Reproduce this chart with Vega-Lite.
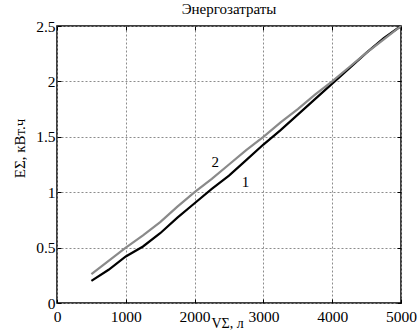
{
  "$schema": "https://vega.github.io/schema/vega-lite/v6.json",
  "width": 344,
  "height": 277,
  "autosize": {"type": "none"},
  "padding": {"left": 57, "top": 26, "right": 18, "bottom": 31},
  "background": "white",
  "config": {
    "font": "Liberation Serif",
    "view": {"stroke": "black", "strokeWidth": 1.5},
    "axis": {"labelFont": "Liberation Serif", "titleFont": "Liberation Serif", "labelColor": "black", "titleColor": "black"}
  },
  "title": {"text": "Энергозатраты", "fontSize": 15, "fontWeight": "normal", "font": "Liberation Serif", "offset": 2, "color": "black"},
  "datasets": {
    "lines": [
      {"V": 500, "E": 0.2, "curve": "1"}, {"V": 750, "E": 0.3, "curve": "1"}, {"V": 1000, "E": 0.42, "curve": "1"}, {"V": 1250, "E": 0.51, "curve": "1"}, {"V": 1500, "E": 0.63, "curve": "1"}, {"V": 1750, "E": 0.77, "curve": "1"}, {"V": 2000, "E": 0.9, "curve": "1"}, {"V": 2250, "E": 1.03, "curve": "1"}, {"V": 2500, "E": 1.15, "curve": "1"}, {"V": 2750, "E": 1.29, "curve": "1"}, {"V": 3000, "E": 1.43, "curve": "1"}, {"V": 3250, "E": 1.56, "curve": "1"}, {"V": 3500, "E": 1.7, "curve": "1"}, {"V": 3750, "E": 1.84, "curve": "1"}, {"V": 4000, "E": 1.98, "curve": "1"}, {"V": 4250, "E": 2.12, "curve": "1"}, {"V": 4500, "E": 2.26, "curve": "1"}, {"V": 4750, "E": 2.39, "curve": "1"}, {"V": 5000, "E": 2.5, "curve": "1"},
      {"V": 500, "E": 0.26, "curve": "2"}, {"V": 750, "E": 0.38, "curve": "2"}, {"V": 1000, "E": 0.5, "curve": "2"}, {"V": 1250, "E": 0.61, "curve": "2"}, {"V": 1500, "E": 0.73, "curve": "2"}, {"V": 1750, "E": 0.87, "curve": "2"}, {"V": 2000, "E": 1.0, "curve": "2"}, {"V": 2250, "E": 1.12, "curve": "2"}, {"V": 2500, "E": 1.25, "curve": "2"}, {"V": 2750, "E": 1.38, "curve": "2"}, {"V": 3000, "E": 1.5, "curve": "2"}, {"V": 3250, "E": 1.63, "curve": "2"}, {"V": 3500, "E": 1.75, "curve": "2"}, {"V": 3750, "E": 1.88, "curve": "2"}, {"V": 4000, "E": 2.0, "curve": "2"}, {"V": 4250, "E": 2.13, "curve": "2"}, {"V": 4500, "E": 2.26, "curve": "2"}, {"V": 4750, "E": 2.38, "curve": "2"}, {"V": 5000, "E": 2.5, "curve": "2"}
    ],
    "labels": [
      {"V": 2300, "E": 1.27, "label": "2"},
      {"V": 2740, "E": 1.09, "label": "1"}
    ]
  },
  "layer": [
    {
      "data": {"name": "lines"},
      "mark": {"type": "line", "strokeWidth": 2.2},
      "encoding": {
        "x": {"field": "V", "type": "quantitative", "scale": {"domain": [0, 5000], "nice": false},
              "axis": {"orient": "bottom", "values": [0, 1000, 2000, 3000, 4000, 5000], "format": "d", "labelFont": "Liberation Serif", "labelFontSize": 15.5, "tickSize": -4, "tickColor": "black", "domain": false, "labelPadding": 10, "grid": true, "gridColor": "#8c8c8c", "gridOpacity": 1, "gridDash": [2, 2], "gridWidth": 1, "title": "VΣ, л", "titleFont": "Liberation Serif", "titleFontSize": 14, "titleFontWeight": "normal", "titlePadding": -8, "titleX": 170, "labelFlush": false}},
        "y": {"field": "E", "type": "quantitative", "scale": {"domain": [0, 2.5], "nice": false},
              "axis": {"orient": "left", "values": [0, 0.5, 1, 1.5, 2, 2.5], "format": "~g", "labelFont": "Liberation Serif", "labelFontSize": 15.5, "tickSize": -4, "tickColor": "black", "domain": false, "labelPadding": 6, "grid": true, "gridColor": "#8c8c8c", "gridOpacity": 1, "gridDash": [2, 2], "gridWidth": 1, "title": "EΣ, кВт.ч", "titleFont": "Liberation Serif", "titleFontSize": 15, "titleFontWeight": "normal", "titlePadding": 8, "titleY": 122, "titleAlign": "center", "labelFlush": false}},
        "color": {"field": "curve", "type": "nominal", "scale": {"domain": ["1", "2"], "range": ["black", "#8a8a8a"]}, "legend": null}
      }
    },
    {
      "data": {"name": "labels"},
      "mark": {"type": "text", "fontSize": 15, "font": "Liberation Serif", "color": "black"},
      "encoding": {
        "x": {"field": "V", "type": "quantitative", "axis": {"orient": "top", "values": [0, 1000, 2000, 3000, 4000, 5000], "labels": false, "tickSize": -4, "tickColor": "black", "domain": false, "grid": false, "title": null}},
        "y": {"field": "E", "type": "quantitative", "axis": {"orient": "right", "values": [0, 0.5, 1, 1.5, 2, 2.5], "labels": false, "tickSize": -4, "tickColor": "black", "domain": false, "grid": false, "title": null}},
        "text": {"field": "label"}
      }
    }
  ],
  "resolve": {"axis": {"x": "independent", "y": "independent"}}
}
